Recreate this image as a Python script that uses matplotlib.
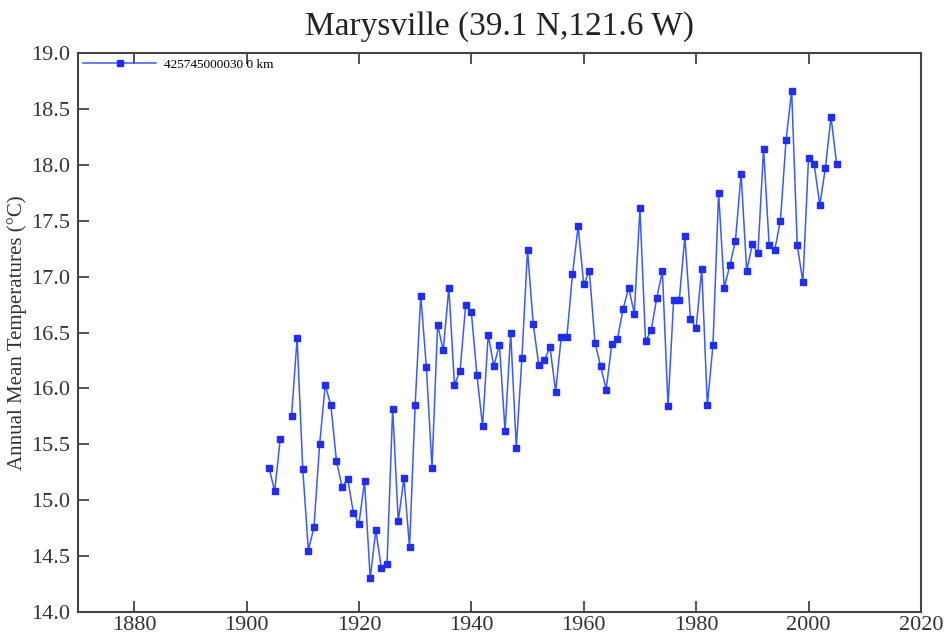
import numpy as np
import matplotlib
matplotlib.use("Agg")
import matplotlib.pyplot as plt

plt.rcParams["font.family"] = ["Liberation Serif", "DejaVu Serif"]

# annual mean temperatures, 1907 missing
years = list(range(1904, 2006))
temps = [
    15.29, 15.08, 15.55, np.nan, 15.75, 16.45, 15.28, 14.55, 14.76, 15.50,
    16.03, 15.85, 15.35, 15.12, 15.19, 14.89, 14.79, 15.17, 14.30, 14.73,
    14.39, 14.43, 15.82, 14.81, 15.20, 14.58, 15.85, 16.83, 16.19, 15.29,
    16.57, 16.34, 16.90, 16.03, 16.16, 16.75, 16.68, 16.12, 15.66, 16.48,
    16.20, 16.39, 15.62, 16.50, 15.47, 16.27, 17.24, 16.58, 16.21, 16.25,
    16.37, 15.97, 16.46, 16.46, 17.02, 17.45, 16.93, 17.05, 16.41, 16.20,
    15.99, 16.40, 16.44, 16.71, 16.90, 16.67, 17.61, 16.42, 16.52, 16.81,
    17.05, 15.84, 16.79, 16.79, 17.36, 16.62, 16.54, 17.07, 15.85, 16.39,
    17.75, 16.90, 17.10, 17.32, 17.92, 17.05, 17.29, 17.21, 18.14, 17.28,
    17.24, 17.50, 18.22, 18.66, 17.28, 16.95, 18.06, 18.01, 17.64, 17.97,
    18.43, 18.01,
]
station = "425745000030 0 km"

fig = plt.figure(figsize=(9.45, 6.42), dpi=100)
ax = fig.add_axes([0.0825, 0.0467, 0.892, 0.8707])

ax.plot(years, temps, color="#3a5cf0", lw=1.1, marker="s", ms=4.5,
        mfc="#1f2df5", mec="#1f2df5", label=station)

ax.set_xlim(1870, 2020)
ax.set_ylim(14.0, 19.0)
ax.set_xticks(range(1880, 2021, 20))
ax.set_yticks(np.arange(14.0, 19.01, 0.5))
ax.set_yticklabels([f"{v:.1f}" for v in np.arange(14.0, 19.01, 0.5)])
ax.tick_params(direction="in", length=8, width=1.2, labelsize=16,
               colors="#333333", top=True, right=False, pad=3)
ax.tick_params(axis="y", pad=6)
for s in ax.spines.values():
    s.set_linewidth(1.5)
    s.set_color("#444444")

ax.set_title("Marysville (39.1 N,121.6 W)", fontsize=24, pad=13,
             color="#222222")
ax.set_ylabel("Annual Mean Temperatures (\u00b0C)", fontsize=15,
              color="#333333")
ax.yaxis.set_label_coords(-0.061, 0.5)

ax.legend(loc="upper left", frameon=False, fontsize=9.5, handlelength=5.5,
          markerscale=0.9, borderaxespad=0.1, borderpad=0.3, handletextpad=0.6)

fig.savefig("out.png", dpi=100)
